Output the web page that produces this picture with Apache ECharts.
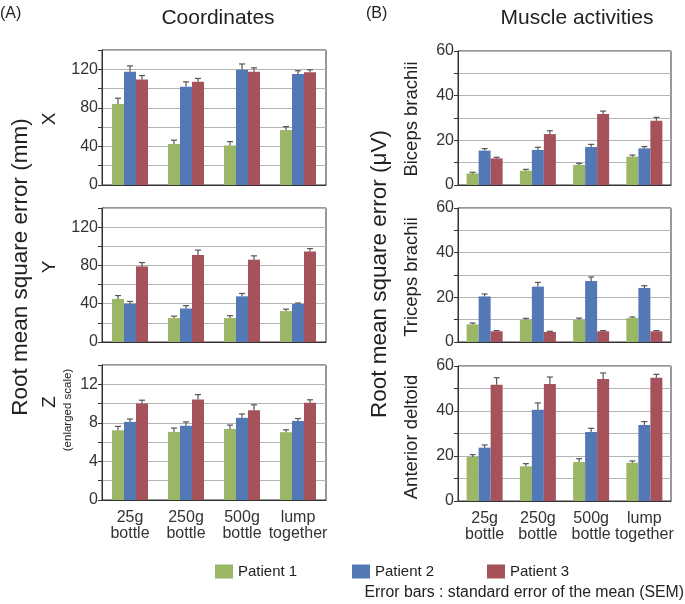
<!DOCTYPE html>
<html>
<head>
<meta charset="utf-8">
<script src="https://cdn.jsdelivr.net/npm/echarts@6/dist/echarts.min.js"></script>
<style>
html,body{margin:0;padding:0;background:#fff;}
#chart{width:685px;height:604px;}
</style>
</head>
<body>
<div id="chart"></div>
<script>
// ---------- data ----------
const categories = ['25g\nbottle', '250g\nbottle', '500g\nbottle', 'lump\ntogether'];
const seriesNames = ['Patient 1', 'Patient 2', 'Patient 3'];

// Coordinates X (mm)
const coordX_p1 = [84, 42.5, 41, 57];
const coordX_p2 = [117.5, 102, 119.5, 115];
const coordX_p3 = [109.5, 107, 117.5, 117];
const coordX_e1 = [6, 4, 4, 3.5];
const coordX_e2 = [6, 5, 6, 3.5];
const coordX_e3 = [4, 3.5, 4, 2.5];

// Coordinates Y (mm)
const coordY_p1 = [45, 25, 25, 32.3];
const coordY_p2 = [40, 35, 47.7, 39.7];
const coordY_p3 = [79, 91, 86, 94.6];
const coordY_e1 = [3.5, 2, 2.5, 2];
const coordY_e2 = [2.4, 3, 3, 1];
const coordY_e3 = [4, 5, 4, 3];

// Coordinates Z (mm, enlarged scale)
const coordZ_p1 = [7.23, 7.06, 7.37, 7.03];
const coordZ_p2 = [8.1, 7.7, 8.52, 8.2];
const coordZ_p3 = [10.0, 10.43, 9.32, 10.09];
const coordZ_e1 = [0.4, 0.4, 0.4, 0.25];
const coordZ_e2 = [0.3, 0.4, 0.4, 0.25];
const coordZ_e3 = [0.35, 0.5, 0.55, 0.3];

// Biceps brachii (µV)
const biceps_p1 = [5.2, 6.4, 9.0, 12.7];
const biceps_p2 = [15.4, 15.7, 17.0, 16.4];
const biceps_p3 = [11.9, 22.8, 31.8, 28.8];
const biceps_e1 = [0.5, 0.6, 0.7, 0.7];
const biceps_e2 = [0.9, 1.2, 1.2, 0.8];
const biceps_e3 = [0.5, 1.5, 1.3, 1.5];

// Triceps brachii (µV)
const triceps_p1 = [7.9, 10.0, 10.0, 10.7];
const triceps_p2 = [20.4, 24.8, 27.3, 24.2];
const triceps_p3 = [4.8, 4.5, 4.8, 4.8];
const triceps_e1 = [0.6, 0.6, 0.7, 0.5];
const triceps_e2 = [1.1, 1.9, 1.8, 1.0];
const triceps_e3 = [0.3, 0.3, 0.3, 0.3];

// Anterior deltoid (µV)
const deltoid_p1 = [19.6, 15.4, 17.3, 17.0];
const deltoid_p2 = [23.7, 40.6, 30.7, 33.8];
const deltoid_p3 = [51.7, 52.0, 54.2, 54.8];
const deltoid_e1 = [1.0, 1.2, 1.5, 0.8];
const deltoid_e2 = [1.2, 3.0, 1.6, 1.5];
const deltoid_e3 = [3.1, 3.1, 2.7, 1.5];

// axis scales
const leftMaxXY = 140, leftIntXY = 20, leftLabelStepXY = 40;
const leftMaxZ = 14, leftIntZ = 2, leftLabelStepZ = 4;
const rightMax = 60, rightInt = 10, rightLabelStep = 20;

// ---------- layout / style ----------
const colors = ['#9BB664', '#5279B6', '#A5525A'];
const FONT = "'Liberation Sans', Arial, sans-serif";
const BAR_W = 12;

const panels = [
  {left: 102, top: 50, height: 135, max: leftMaxXY, interval: leftIntXY, step: leftLabelStepXY, vals: [coordX_p1, coordX_p2, coordX_p3], errs: [coordX_e1, coordX_e2, coordX_e3], showCat: false},
  {left: 102, top: 208, height: 134, max: leftMaxXY, interval: leftIntXY, step: leftLabelStepXY, vals: [coordY_p1, coordY_p2, coordY_p3], errs: [coordY_e1, coordY_e2, coordY_e3], showCat: false},
  {left: 102, top: 365, height: 135, max: leftMaxZ, interval: leftIntZ, step: leftLabelStepZ, vals: [coordZ_p1, coordZ_p2, coordZ_p3], errs: [coordZ_e1, coordZ_e2, coordZ_e3], showCat: true},
  {left: 458, top: 51, height: 134, max: rightMax, interval: rightInt, step: rightLabelStep, vals: [biceps_p1, biceps_p2, biceps_p3], errs: [biceps_e1, biceps_e2, biceps_e3], showCat: false},
  {left: 458, top: 208, height: 134, max: rightMax, interval: rightInt, step: rightLabelStep, vals: [triceps_p1, triceps_p2, triceps_p3], errs: [triceps_e1, triceps_e2, triceps_e3], showCat: false},
  {left: 458, top: 366, height: 135, max: rightMax, interval: rightInt, step: rightLabelStep, vals: [deltoid_p1, deltoid_p2, deltoid_p3], errs: [deltoid_e1, deltoid_e2, deltoid_e3], showCat: true}
];
const widths = {102: 224, 458: 213};

const grid = [], xAxis = [], yAxis = [], series = [];
panels.forEach((p, gi) => {
  grid.push({left: p.left, top: p.top, width: widths[p.left], height: p.height,
    show: true, borderColor: '#333', borderWidth: 1, containLabel: false});
  xAxis.push({type: 'category', gridIndex: gi, data: categories,
    axisLine: {lineStyle: {color: '#333', width: 1}},
    axisTick: {show: false},
    axisLabel: {show: p.showCat, color: '#333', fontSize: 16, fontFamily: FONT, lineHeight: 16, margin: 10, interval: 0}});
  yAxis.push({type: 'value', gridIndex: gi, min: 0, max: p.max, interval: p.interval,
    axisLine: {show: true, lineStyle: {color: '#333', width: 1}},
    axisTick: {show: true, length: 4, lineStyle: {color: '#333'}},
    splitLine: {lineStyle: {color: '#b4b4b4', width: 1}},
    axisLabel: {color: '#333', fontSize: 16, fontFamily: FONT, margin: 4,
      formatter: v => (Math.round(v * 1000) % Math.round(p.step * 1000) === 0 ? String(v) : '')}});
  for (let s = 0; s < 3; s++) {
    series.push({type: 'bar', name: seriesNames[s], xAxisIndex: gi, yAxisIndex: gi,
      data: p.vals[s], barWidth: BAR_W, barGap: '0%', itemStyle: {color: colors[s]},
      emphasis: {disabled: true}, animation: false});
  }
  for (let s = 0; s < 3; s++) {
    const off = (s - 1) * BAR_W;
    series.push({type: 'custom', xAxisIndex: gi, yAxisIndex: gi, z: 5, animation: false,
      encode: {x: 0, y: 1},
      data: p.vals[s].map((v, i) => [i, v, p.errs[s][i]]),
      renderItem: (params, api) => {
        const i = api.value(0), v = api.value(1), e = api.value(2);
        const b = api.coord([i, v]);
        const t = api.coord([i, v + e]);
        const x = b[0] + off;
        return {type: 'group', children: [
          {type: 'line', shape: {x1: x, y1: b[1], x2: x, y2: t[1]}, style: {stroke: '#555', lineWidth: 1.2}},
          {type: 'line', shape: {x1: x - 3, y1: t[1], x2: x + 3, y2: t[1]}, style: {stroke: '#555', lineWidth: 1.2}}
        ]};
      }});
  }
});

function txt(x, y, text, size, rot, align) {
  return {type: 'text', x: x, y: y, rotation: rot || 0,
    style: {text: text, fill: '#222', font: size + 'px ' + FONT, textAlign: align || 'center', textVerticalAlign: 'middle'}};
}
const R = Math.PI / 2;
const graphic = [
  txt(0, 14, '(A)', 16, 0, 'left'),
  txt(218, 18, 'Coordinates', 21),
  txt(366, 14, '(B)', 16, 0, 'left'),
  txt(577, 18, 'Muscle activities', 21),
  txt(21, 267, 'Root mean square error (mm)', 22.5, R),
  txt(50, 119, 'X', 19, R),
  txt(50, 267, 'Y', 19, R),
  txt(50, 402, 'Z', 19, R),
  txt(68, 410, '(enlarged scale)', 11.5, R),
  txt(380, 274, 'Root mean square error (\u03bcV)', 22.5, R),
  txt(412, 119, 'Biceps brachii', 18.5, R),
  txt(412, 277, 'Triceps brachii', 18.5, R),
  txt(412, 437, 'Anterior deltoid', 18.5, R),
  txt(684, 593, 'Error bars : standard error of the mean (SEM)', 15.8, 0, 'right')
];

const legendBase = {itemWidth: 18, itemHeight: 14, selectedMode: false, icon: 'rect',
  textStyle: {fontSize: 15, fontFamily: FONT, color: '#222'}, itemGap: 0, padding: 0};
const legend = [
  Object.assign({}, legendBase, {data: ['Patient 1'], left: 215, top: 564}),
  Object.assign({}, legendBase, {data: ['Patient 2'], left: 352, top: 564}),
  Object.assign({}, legendBase, {data: ['Patient 3'], left: 487, top: 564})
];

const chart = echarts.init(document.getElementById('chart'), null, {renderer: 'canvas'});
chart.setOption({animation: false, textStyle: {fontFamily: FONT}, grid, xAxis, yAxis, series, legend, graphic});
</script>
</body>
</html>
